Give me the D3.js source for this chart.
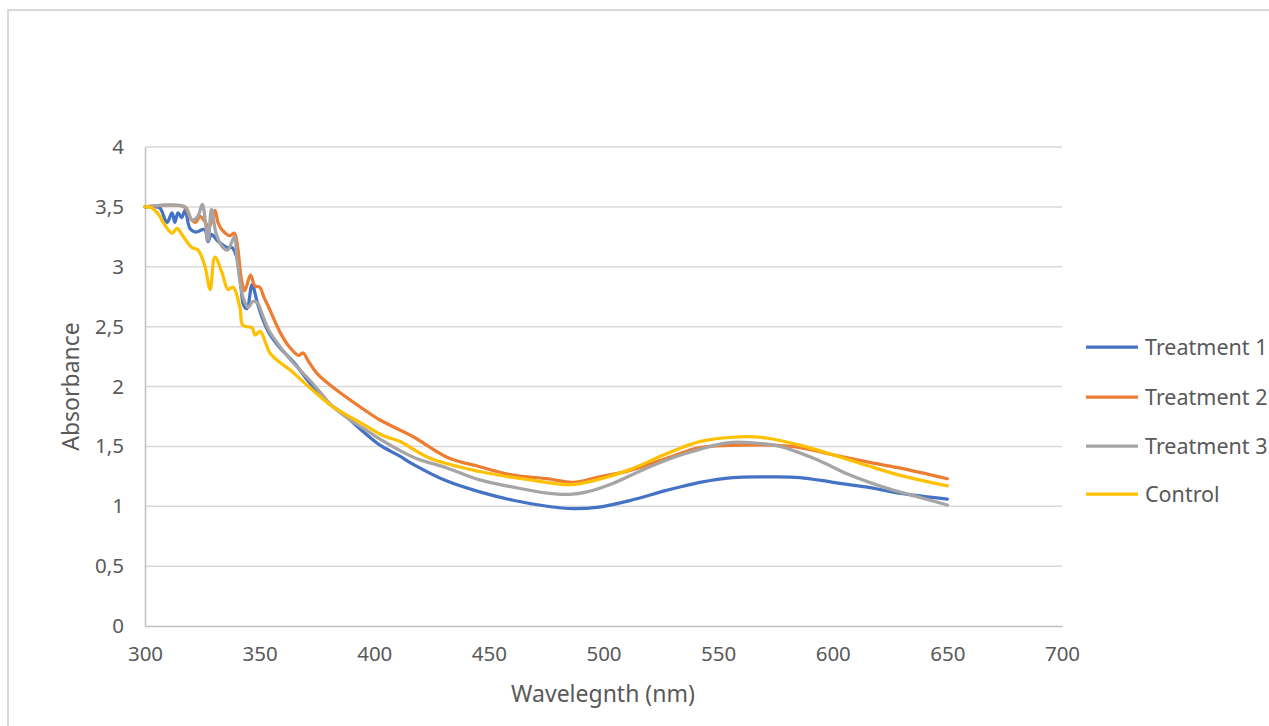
<!DOCTYPE html>
<html>
<head>
<meta charset="utf-8">
<script src="https://cdn.jsdelivr.net/npm/d3@7"></script>
<style>
  html, body { margin: 0; padding: 0; background: #fff; }
  svg { display: block; }
  text { font-family: "Noto Sans", "Open Sans", sans-serif; fill: #595959; }
</style>
</head>
<body>
<svg id="chart" width="1269" height="726"></svg>
<script>
// ---- data (wavelength nm, absorbance) ----
const seriesNames = ["Treatment 1", "Treatment 2", "Treatment 3", "Control"];
const seriesColors = ["#4472C4", "#ED7D31", "#A5A5A5", "#FFC000"];

const treatment1 = [
  [300,3.5],[304,3.5],[306.5,3.49],[309.6,3.37],[311.8,3.45],[313,3.37],[314.4,3.45],[316,3.41],
  [317.5,3.47],[319.6,3.32],[322,3.29],[326,3.31],[327.5,3.21],[329,3.27],[331.5,3.22],[335.8,3.16],
  [338,3.16],[340,3.08],[341.5,2.91],[343,2.68],[344.5,2.65],[346.7,2.85],[349,2.70],[351,2.58],
  [354,2.45],[359,2.32],[365,2.20],[371,2.05],[375.5,1.95],[380,1.86],[386,1.78],[393,1.66],
  [402.5,1.51],[411,1.42],[417,1.35],[431.7,1.21],[446,1.12],[460.5,1.05],[475.4,1.00],[486.7,0.98],
  [497,0.99],[512,1.05],[527,1.13],[542,1.20],[556.5,1.24],[571,1.245],[585.7,1.24],[600,1.20],
  [615,1.16],[629,1.11],[650,1.06]
];
const treatment2 = [
  [300,3.5],[317,3.5],[320,3.40],[322,3.37],[324,3.42],[326,3.38],[328,3.33],[330.5,3.47],[332,3.36],
  [334,3.30],[337,3.26],[339,3.28],[340.5,3.15],[342,2.90],[343.5,2.80],[346,2.93],[348,2.84],[350,2.83],
  [352,2.74],[354,2.66],[359,2.45],[363,2.33],[367,2.26],[369,2.28],[371,2.22],[375,2.11],[379,2.04],
  [385,1.95],[393.8,1.83],[402.5,1.72],[417,1.58],[431.7,1.41],[446,1.33],[460.5,1.26],[475.4,1.23],
  [486.7,1.20],[497,1.24],[511.6,1.30],[526,1.39],[542,1.49],[559.5,1.51],[574,1.51],[585.7,1.49],
  [600,1.43],[615,1.37],[629,1.32],[650,1.23]
];
const treatment3 = [
  [300,3.5],[317.5,3.5],[320.5,3.39],[323,3.42],[325,3.52],[327.5,3.22],[329,3.48],[331,3.28],
  [333.6,3.17],[336,3.14],[339,3.25],[340,3.08],[341.8,2.83],[343,2.73],[345,2.66],[347,2.71],
  [349,2.70],[351,2.61],[354,2.47],[359,2.33],[364.5,2.20],[369,2.11],[372,2.05],[376.5,1.95],
  [382,1.83],[389.5,1.72],[397,1.63],[402.5,1.56],[417,1.41],[431.7,1.32],[446,1.22],[460.5,1.16],
  [475.4,1.11],[485.4,1.10],[492.8,1.12],[504,1.19],[519,1.32],[534,1.43],[554,1.53],[565,1.53],
  [577,1.50],[593,1.39],[607.5,1.26],[622,1.16],[636.8,1.08],[650,1.01]
];
const control = [
  [300,3.5],[302,3.5],[304.4,3.47],[306.5,3.42],[307.9,3.37],[311.8,3.28],[314,3.32],[316.1,3.27],
  [320.5,3.16],[323.1,3.14],[326.2,3.00],[328.4,2.81],[330.5,3.08],[333.6,2.95],[336.2,2.81],
  [338.4,2.83],[341.4,2.66],[342.7,2.51],[346.7,2.49],[348,2.43],[350.2,2.46],[354.5,2.28],
  [358.9,2.20],[363.2,2.14],[370.7,2.01],[382,1.83],[393.8,1.70],[403.8,1.59],[411.2,1.54],
  [424.3,1.40],[446,1.29],[468,1.22],[485.4,1.18],[497,1.22],[512,1.31],[527.7,1.44],[542,1.54],
  [559.5,1.58],[571,1.57],[585.7,1.51],[600,1.43],[615,1.34],[629,1.26],[650,1.17]
];
const allSeries = [treatment1, treatment2, treatment3, control];

const xTicks = [300, 350, 400, 450, 500, 550, 600, 650, 700];
const yTicks = [0, 0.5, 1, 1.5, 2, 2.5, 3, 3.5, 4];
const xTitle = "Wavelegnth (nm)";
const yTitle = "Absorbance";

// ---- layout ----
const svg = d3.select("#chart");
const plot = { left: 145, right: 1062, top: 147, bottom: 626 };

const x = d3.scaleLinear().domain([300, 700]).range([plot.left, plot.right]);
const y = d3.scaleLinear().domain([0, 4]).range([plot.bottom, plot.top]);
const fmt = d => String(d).replace(".", ",");

// outer chart frame
svg.append("rect")
  .attr("x", 8).attr("y", 10).attr("width", 1400).attr("height", 900)
  .attr("fill", "#fff").attr("stroke", "#d9d9d9").attr("stroke-width", 2);

// gridlines
svg.append("g")
  .selectAll("line").data(yTicks.filter(d => d > 0)).join("line")
  .attr("x1", plot.left).attr("x2", plot.right)
  .attr("y1", d => y(d)).attr("y2", d => y(d))
  .attr("stroke", "#d9d9d9").attr("stroke-width", 1.5);

// axes
const yAxis = d3.axisLeft(y).tickValues(yTicks).tickFormat(fmt).tickSize(0).tickPadding(21);
const gy = svg.append("g").attr("transform", `translate(${plot.left},0)`).call(yAxis);
gy.select(".domain").attr("stroke", "#bfbfbf").attr("stroke-width", 1.5);
gy.selectAll("text").attr("font-size", 20.5).attr("fill", "#595959")
  .style("font-family", '"Noto Sans", sans-serif');

const xAxis = d3.axisBottom(x).tickValues(xTicks).tickFormat(d3.format("d")).tickSize(0).tickPadding(20);
const gx = svg.append("g").attr("transform", `translate(0,${plot.bottom})`).call(xAxis);
gx.select(".domain").attr("stroke", "#bfbfbf").attr("stroke-width", 1.5);
gx.selectAll("text").attr("font-size", 20.5).attr("fill", "#595959")
  .style("font-family", '"Noto Sans", sans-serif');

// axis titles
svg.append("text")
  .attr("x", 603).attr("y", 702)
  .attr("text-anchor", "middle").attr("font-size", 23).text(xTitle);
svg.append("text")
  .attr("transform", `translate(79,${(plot.top + plot.bottom) / 2}) rotate(-90)`)
  .attr("text-anchor", "middle").attr("font-size", 23).text(yTitle);

// lines
const line = d3.line()
  .x(d => x(d[0])).y(d => y(d[1]))
  .curve(d3.curveCatmullRom.alpha(0.5));

svg.append("g")
  .selectAll("path").data(allSeries).join("path")
  .attr("d", line)
  .attr("fill", "none")
  .attr("stroke", (d, i) => seriesColors[i])
  .attr("stroke-width", 3.25)
  .attr("stroke-linejoin", "round")
  .attr("stroke-linecap", "round");

// legend
const legendY = [347, 397, 446, 494];
const lg = svg.append("g").selectAll("g").data(seriesNames).join("g")
  .attr("transform", (d, i) => `translate(1086,${legendY[i]})`);
lg.append("line").attr("x1", 0).attr("x2", 52).attr("y1", 0).attr("y2", 0)
  .attr("stroke", (d, i) => seriesColors[i]).attr("stroke-width", 3.25);
lg.append("text").attr("x", 59).attr("y", 0).attr("dy", "0.35em")
  .attr("font-size", 21.5).text(d => d);
</script>
</body>
</html>
